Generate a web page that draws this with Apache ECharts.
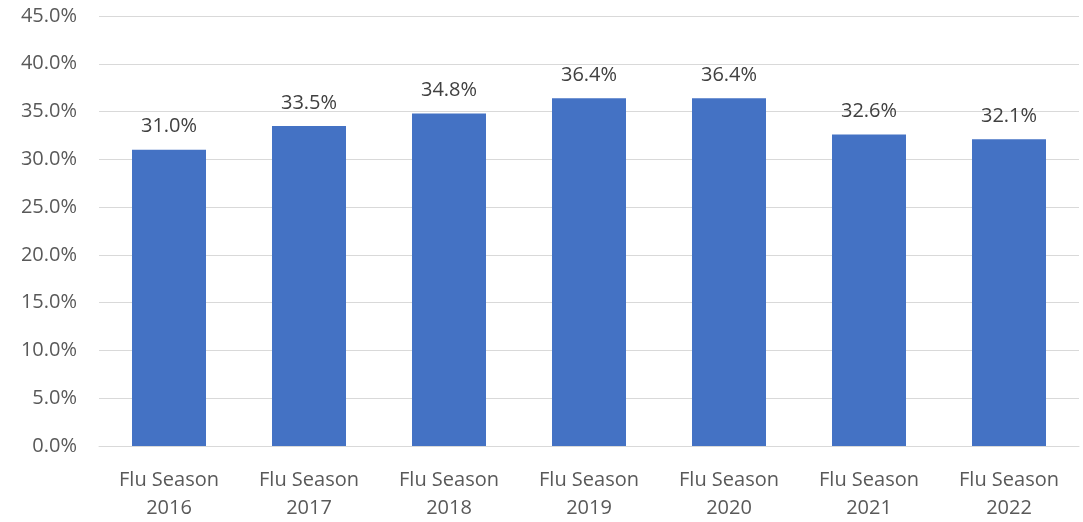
<!DOCTYPE html>
<html>
<head>
<meta charset="utf-8">
<script src="https://cdn.jsdelivr.net/npm/echarts@6/dist/echarts.min.js"></script>
<style>
  html, body { margin: 0; padding: 0; background: #fff; }
  #chart { width: 1083px; height: 522px; }
</style>
</head>
<body>
<div id="chart"></div>
<script>
// data
const categories = ['Flu Season\n2016', 'Flu Season\n2017', 'Flu Season\n2018', 'Flu Season\n2019', 'Flu Season\n2020', 'Flu Season\n2021', 'Flu Season\n2022']
const rates = [31.0, 33.5, 34.8, 36.4, 36.4, 32.6, 32.1]

const font = '"Open Sans", "Noto Sans", sans-serif'

const chart = echarts.init(document.getElementById('chart'))
chart.setOption({
    animation: false,
    textStyle: { fontFamily: font },
    grid: { left: 99, right: 4, top: 16, bottom: 76 },
    xAxis: {
        type: 'category',
        data: categories,
        axisLine: { lineStyle: { color: '#d9d9d9', width: 1 } },
        axisTick: { show: false },
        axisLabel: {
            color: '#595959',
            fontSize: 20,
            lineHeight: 28,
            margin: 20,
            fontFamily: font,
        },
    },
    yAxis: {
        type: 'value',
        min: 0,
        max: 45,
        interval: 5,
        axisLine: { show: false },
        axisTick: { show: false },
        splitLine: { lineStyle: { color: '#d9d9d9', width: 1 } },
        axisLabel: {
            color: '#595959',
            fontSize: 20,
            margin: 22,
            fontFamily: font,
            formatter: (v) => v.toFixed(1) + '%',
        },
    },
    series: [{
        type: 'bar',
        data: rates,
        barWidth: 74,
        itemStyle: { color: '#4472c4' },
        label: {
            show: true,
            position: 'top',
            distance: 13,
            color: '#404040',
            fontSize: 20,
            fontFamily: font,
            formatter: (p) => p.value.toFixed(1) + '%',
        },
    }],
})
</script>
</body>
</html>
